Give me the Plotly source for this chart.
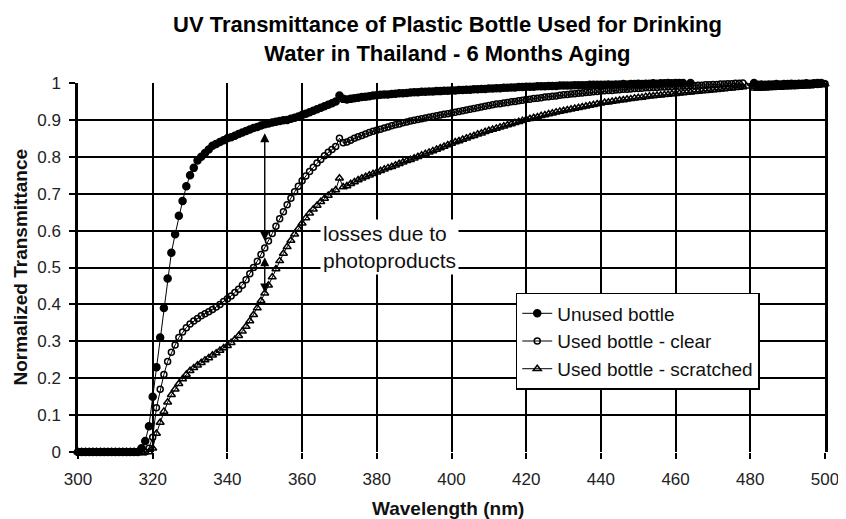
import plotly.graph_objects as go

# wavelength in nm, one reading per nm
wavelength = list(range(300, 501))

unused = (
    [0.0] * 17 +  # 300-316
    [0.01, 0.03, 0.07,  # 317-319
     0.15, 0.23, 0.31, 0.39, 0.47, 0.54, 0.59, 0.64, 0.68, 0.72,  # 320-329
     0.75, 0.77, 0.79, 0.80, 0.81, 0.82, 0.83, 0.835, 0.84, 0.845,  # 330-339
     0.85, 0.853, 0.857, 0.862, 0.866, 0.87, 0.874, 0.878, 0.881, 0.885,  # 340-349
     0.888, 0.89, 0.893, 0.895, 0.897, 0.899, 0.90, 0.903, 0.906, 0.909,  # 350-359
     0.913, 0.917, 0.921, 0.925, 0.929, 0.933, 0.937, 0.941, 0.945, 0.95,  # 360-369
     0.966, 0.957, 0.955, 0.957, 0.959, 0.96, 0.962, 0.963, 0.964, 0.966,  # 370-379
     0.967, 0.968, 0.969, 0.969, 0.97, 0.971, 0.972, 0.972, 0.973, 0.974,  # 380-389
     0.975, 0.975, 0.976, 0.976, 0.977, 0.977, 0.978, 0.978, 0.979, 0.979,  # 390-399
     0.98, 0.98, 0.981, 0.981, 0.982, 0.982, 0.983, 0.983, 0.984, 0.984,  # 400-409
     0.985, 0.985, 0.986, 0.986, 0.987, 0.987, 0.988, 0.988, 0.989, 0.989,  # 410-419
     0.99, 0.99, 0.99, 0.991, 0.991, 0.991, 0.992, 0.992, 0.992, 0.993,  # 420-429
     0.993, 0.993, 0.993, 0.994, 0.994, 0.994, 0.994, 0.995, 0.995, 0.995,  # 430-439
     0.995, 0.995, 0.996, 0.995, 0.996, 0.996, 0.997, 0.996, 0.997, 0.997,  # 440-449
     0.998, 0.997, 0.998, 0.998, 0.999, 0.998, 0.999, 0.999, 1.0, 0.999,  # 450-459
     1.0, 1.0, 1.0, 1.001, 1.0, 1.001, 1.002, 1.001, 1.002, 1.002,  # 460-469
     1.003, 1.003, 1.004, 1.004, 1.005, 1.005, 1.006, 1.007, 1.008, 1.01,  # 470-479
     1.013, 1.0, 0.995, 0.996, 0.995, 0.996, 0.996, 0.997, 0.996, 0.997,  # 480-489
     0.997, 0.998, 0.997, 0.998, 0.998, 0.999, 0.998, 0.999, 1.0, 1.0,  # 490-499
     1.002]  # 500
)

used_clear = (
    [0.0] * 19 +  # 300-318
    [0.01,  # 319
     0.04, 0.12, 0.17, 0.21, 0.245, 0.27, 0.29, 0.31, 0.325, 0.337,  # 320-329
     0.347, 0.355, 0.362, 0.369, 0.375, 0.38, 0.386, 0.393, 0.40, 0.408,  # 330-339
     0.415, 0.423, 0.432, 0.441, 0.452, 0.467, 0.483, 0.50, 0.517, 0.535,  # 340-349
     0.553, 0.572, 0.592, 0.612, 0.632, 0.651, 0.67, 0.688, 0.705, 0.72,  # 350-359
     0.735, 0.748, 0.76, 0.772, 0.783, 0.793, 0.803, 0.812, 0.82, 0.828,  # 360-369
     0.85, 0.838, 0.84, 0.845, 0.85, 0.854, 0.858, 0.862, 0.866, 0.869,  # 370-379
     0.872, 0.875, 0.878, 0.881, 0.884, 0.887, 0.889, 0.892, 0.894, 0.897,  # 380-389
     0.899, 0.901, 0.903, 0.905, 0.907, 0.909, 0.911, 0.913, 0.915, 0.917,  # 390-399
     0.919, 0.921, 0.923, 0.925, 0.927, 0.929, 0.931, 0.933, 0.935, 0.937,  # 400-409
     0.939, 0.941, 0.943, 0.944, 0.946, 0.947, 0.949, 0.95, 0.952, 0.953,  # 410-419
     0.955, 0.956, 0.958, 0.959, 0.96, 0.962, 0.963, 0.964, 0.965, 0.967,  # 420-429
     0.968, 0.969, 0.97, 0.971, 0.972, 0.973, 0.974, 0.975, 0.976, 0.977,  # 430-439
     0.978, 0.979, 0.98, 0.98, 0.981, 0.982, 0.983, 0.983, 0.984, 0.985,  # 440-449
     0.985, 0.986, 0.987, 0.987, 0.988, 0.988, 0.989, 0.989, 0.99, 0.99,  # 450-459
     0.991, 0.991, 0.992, 0.992, 0.993, 0.993, 0.994, 0.994, 0.995, 0.995,  # 460-469
     0.996, 0.996, 0.997, 0.997, 0.998, 0.998, 0.999, 0.999, 1.0, 1.002,  # 470-479
     1.012, 0.993, 0.991, 0.992, 0.991, 0.992, 0.992, 0.993, 0.992, 0.993,  # 480-489
     0.993, 0.994, 0.993, 0.994, 0.994, 0.995, 0.995, 0.996, 0.996, 0.997,  # 490-499
     0.998]  # 500
)

used_scratched = (
    [0.0] * 20 +  # 300-319
    [0.01, 0.05, 0.08, 0.11, 0.135, 0.155, 0.17, 0.185, 0.198, 0.21,  # 320-329
     0.22, 0.228, 0.235, 0.242, 0.249, 0.255, 0.262, 0.268, 0.275, 0.282,  # 330-339
     0.288, 0.296, 0.305, 0.315, 0.327, 0.34, 0.355, 0.372, 0.39, 0.41,  # 340-349
     0.43, 0.452, 0.474, 0.496, 0.518, 0.538, 0.556, 0.573, 0.59, 0.605,  # 350-359
     0.62, 0.634, 0.647, 0.658, 0.668, 0.678, 0.687, 0.695, 0.703, 0.71,  # 360-369
     0.742, 0.718, 0.721, 0.727, 0.732, 0.737, 0.742, 0.746, 0.75, 0.754,  # 370-379
     0.758, 0.762, 0.766, 0.77, 0.773, 0.777, 0.781, 0.785, 0.789, 0.792,  # 380-389
     0.796, 0.80, 0.804, 0.808, 0.812, 0.816, 0.82, 0.824, 0.828, 0.832,  # 390-399
     0.836, 0.84, 0.843, 0.847, 0.85, 0.854, 0.857, 0.861, 0.864, 0.868,  # 400-409
     0.871, 0.874, 0.877, 0.88, 0.883, 0.886, 0.889, 0.892, 0.895, 0.898,  # 410-419
     0.901, 0.903, 0.906, 0.908, 0.911, 0.913, 0.916, 0.918, 0.921, 0.923,  # 420-429
     0.925, 0.927, 0.929, 0.931, 0.933, 0.935, 0.937, 0.939, 0.941, 0.943,  # 430-439
     0.945, 0.947, 0.948, 0.95, 0.951, 0.953, 0.954, 0.956, 0.957, 0.959,  # 440-449
     0.96, 0.961, 0.963, 0.964, 0.965, 0.966, 0.967, 0.968, 0.969, 0.97,  # 450-459
     0.971, 0.972, 0.973, 0.974, 0.975, 0.976, 0.977, 0.978, 0.979, 0.98,  # 460-469
     0.981, 0.982, 0.983, 0.984, 0.985, 0.986, 0.987, 0.988, 0.989, 0.991,  # 470-479
     1.005, 0.986, 0.985, 0.986, 0.986, 0.987, 0.987, 0.988, 0.988, 0.989,  # 480-489
     0.989, 0.99, 0.99, 0.991, 0.991, 0.992, 0.992, 0.993, 0.994, 0.995,  # 490-499
     0.997]  # 500
)

assert len(unused) == len(used_clear) == len(used_scratched) == len(wavelength)

series = [
    ("Unused bottle", unused, "circle", 7),
    ("Used bottle - clear", used_clear, "circle-open", 6),
    ("Used bottle - scratched", used_scratched, "triangle-up-open", 7),
]

base_font = "Liberation Sans, Arial, sans-serif"

fig = go.Figure()
for name, vals, sym, size in series:
    fig.add_trace(go.Scatter(
        x=wavelength, y=vals, name=name, mode="lines+markers",
        line=dict(color="black", width=1),
        marker=dict(symbol=sym, size=size, color="black", line=dict(color="black", width=1.5)),
        cliponaxis=False,
    ))

# double headed arrows marking the losses at 350 nm
for y0, y1 in [(0.868, 0.572), (0.532, 0.432)]:
    fig.add_annotation(
        x=350, y=y1, ax=350, ay=y0, xref="x", yref="y", axref="x", ayref="y",
        text="", showarrow=True, arrowhead=2, startarrowhead=2, arrowside="end+start",
        arrowsize=1.3, startarrowsize=1.3, arrowwidth=1.4, arrowcolor="black",
    )

fig.add_annotation(
    x=383.5, y=0.556, xref="x", yref="y", showarrow=False,
    text="losses due to<br>photoproducts", align="left",
    font=dict(family=base_font, size=21, color="#111"),
    bgcolor="white", borderpad=2,
)

# two line title
fig.add_annotation(
    text="<b>UV Transmittance of Plastic Bottle Used for Drinking<br>Water in Thailand - 6 Months Aging</b>",
    x=0.494, y=1.119, xref="paper", yref="paper", showarrow=False,
    xanchor="center", yanchor="middle", align="center",
    font=dict(family=base_font, size=22, color="black"),
)

# axis titles
fig.add_annotation(text="<b>Normalized Transmittance</b>", textangle=-90,
                   x=0, y=0.5, xref="paper", yref="paper", xshift=-58, showarrow=False,
                   xanchor="center", yanchor="middle",
                   font=dict(family=base_font, size=19, color="#111"))
fig.add_annotation(text="<b>Wavelength (nm)</b>",
                   x=0.495, y=0, xref="paper", yref="paper", yshift=-56, showarrow=False,
                   xanchor="center", yanchor="middle",
                   font=dict(family=base_font, size=19, color="#111"))

# page body has an 8px margin, so the figure is drawn 8px smaller
fig.update_layout(
    width=838, height=511,
    margin=dict(l=70, r=21, t=75, b=67),
    paper_bgcolor="white", plot_bgcolor="white",
    font=dict(family=base_font, size=17, color="#222"),
    legend=dict(
        x=0.586, y=0.431, xanchor="left", yanchor="top",
        bgcolor="white", bordercolor="black", borderwidth=1.5,
        font=dict(family=base_font, size=19, color="#111"),
    ),
    showlegend=True,
)

fig.update_xaxes(
    range=[300, 500], dtick=20, tick0=300,
    showgrid=True, gridcolor="black", gridwidth=1.5,
    showline=False, zeroline=False, automargin=False,
    ticks="outside", ticklen=6, tickcolor="black", tickwidth=1.5,
    ticklabelstandoff=6,
)
fig.update_yaxes(
    range=[0, 1], dtick=0.1, tick0=0,
    showgrid=True, gridcolor="black", gridwidth=1.5,
    showline=True, linecolor="black", linewidth=2.5, mirror=True,
    zeroline=False, automargin=False,
    ticks="outside", ticklen=6, tickcolor="black", tickwidth=1.5,
    ticklabelstandoff=5, tickformat="~g",
)

fig.write_html("out.html")
